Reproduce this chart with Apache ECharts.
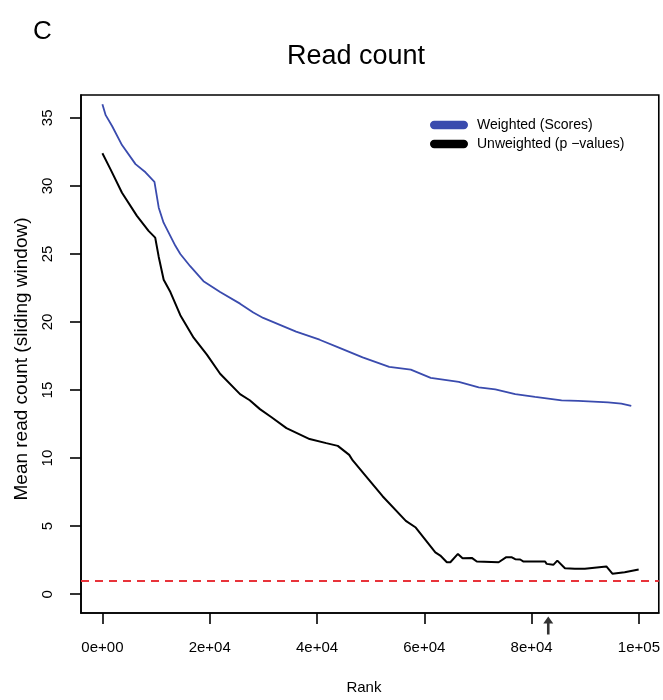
<!DOCTYPE html>
<html>
<head>
<meta charset="utf-8">
<script src="https://cdn.jsdelivr.net/npm/echarts@6/dist/echarts.min.js"></script>
<style>
html,body{margin:0;padding:0;background:#fff;}
#main{width:663px;height:700px;}
</style>
</head>
<body>
<div id="main"></div>
<script>
// ---- data ----
var blueX = [0, 610, 1800, 3650, 6170, 8030, 9700, 10500, 11400, 13600, 14520, 16360, 18840, 21940, 25650, 28120, 29970, 33640, 36100, 40480, 44190, 48500, 53460, 57480, 61190, 66430, 70140, 73230, 76940, 80640, 85580, 88690, 94250, 96720, 98570];
var blueY = [36.0, 35.2, 34.4, 33.0, 31.6, 31.0, 30.3, 28.4, 27.3, 25.6, 25.0, 24.1, 23.0, 22.2, 21.35, 20.7, 20.3, 19.7, 19.3, 18.7, 18.1, 17.4, 16.7, 16.5, 15.9, 15.6, 15.2, 15.05, 14.7, 14.5, 14.25, 14.2, 14.1, 14.0, 13.83];
var blackX = [0, 1540, 3650, 6430, 8600, 9840, 10490, 11420, 12670, 14520, 17000, 19470, 21940, 25650, 27460, 29360, 31520, 34300, 38620, 41720, 43870, 46000, 46660, 49140, 52220, 56550, 58400, 62050, 62980, 64200, 64850, 66260, 67130, 68850, 69780, 73850, 75210, 76320, 76940, 77870, 78490, 82510, 82800, 84040, 84790, 86210, 88060, 89920, 93930, 95050, 97340, 99950];
var blackY = [32.4, 31.2, 29.5, 27.8, 26.7, 26.2, 24.8, 23.1, 22.2, 20.5, 18.85, 17.6, 16.2, 14.7, 14.25, 13.6, 13.0, 12.2, 11.4, 11.1, 10.9, 10.24, 9.83, 8.66, 7.2, 5.39, 4.9, 3.08, 2.84, 2.35, 2.35, 2.96, 2.64, 2.67, 2.4, 2.35, 2.71, 2.71, 2.57, 2.55, 2.4, 2.4, 2.23, 2.16, 2.47, 1.91, 1.87, 1.87, 2.04, 1.51, 1.62, 1.82];
var xTicks = [0, 20000, 40000, 60000, 80000, 100000];
var xTickLabels = ['0e+00', '2e+04', '4e+04', '6e+04', '8e+04', '1e+05'];
var yTicks = [0, 5, 10, 15, 20, 25, 30, 35];
var refLine = 1;
var arrowRank = [83100];
var seriesNames = ['Weighted (Scores)', 'Unweighted (p \u2212values)'];

function pairs(xs, ys){ return xs.map(function(x,i){ return [x, ys[i]]; }); }

var FONT = 'Liberation Sans';
var pill = 'path://M4,0 L32,0 A4,4 0 0 1 32,8 L4,8 A4,4 0 0 1 4,0 Z';
var arrowPath = 'path://M5,0 L10,7 L6.3,7 L6.3,18 L3.7,18 L3.7,7 L0,7 Z';

var chart = echarts.init(document.getElementById('main'), null, {renderer:'canvas'});
chart.setOption({
  animation: false,
  backgroundColor: '#fff',
  textStyle: {fontFamily: FONT},
  title: [
    {text: 'Read count', left: 351, top: 38, textAlign: 'center',
     textStyle: {fontFamily: FONT, fontSize: 27, fontWeight: 'normal', color: '#000'}},
    {text: 'C', left: 28, top: 14,
     textStyle: {fontFamily: FONT, fontSize: 26, fontWeight: 'normal', color: '#000'}}
  ],
  legend: {
    orient: 'vertical', left: 425, top: 113, itemGap: 5,
    itemWidth: 38, itemHeight: 9,
    textStyle: {fontFamily: FONT, fontSize: 14, color: '#000', padding:[0,0,0,4]},
    data: [{name: seriesNames[0], icon: pill}, {name: seriesNames[1], icon: pill}]
  },
  grid: {left: 81, right: 2, top: 95, bottom: 82, show: true, borderColor: '#000', borderWidth: 1.6, containLabel: false},
  xAxis: {
    type: 'value', min: -3990, max: 103700,
    name: 'Rank', nameLocation: 'middle', nameGap: 67,
    nameTextStyle: {fontFamily: FONT, fontSize: 15, color: '#000', padding: [0, 12, 0, 0]},
    axisLine: {show: true, onZero: false, lineStyle: {color: '#000', width: 1.6}},
    splitLine: {show: false},
    axisTick: {show: true, inside: false, length: 11, customValues: xTicks, lineStyle: {color: '#000', width: 1.6}},
    axisLabel: {customValues: xTicks, margin: 27, fontFamily: FONT, fontSize: 15, color: '#000',
      formatter: function(v){ var i = xTicks.indexOf(v); return i >= 0 ? xTickLabels[i] : ''; }}
  },
  yAxis: {
    type: 'value', min: -1.38, max: 36.68,
    name: 'Mean read count (sliding window)', nameLocation: 'middle', nameGap: 50, nameRotate: 90,
    nameTextStyle: {fontFamily: FONT, fontSize: 19, color: '#000', padding: [0, 10, 0, 0]},
    axisLine: {show: true, onZero: false, lineStyle: {color: '#000', width: 1.6}},
    splitLine: {show: false},
    axisTick: {show: true, inside: false, length: 11, customValues: yTicks, lineStyle: {color: '#000', width: 1.6}},
    axisLabel: {customValues: yTicks, rotate: 90, margin: 26, fontFamily: FONT, fontSize: 15, color: '#000'}
  },
  series: [
    {name: seriesNames[0], type: 'line', data: pairs(blueX, blueY), showSymbol: false, symbol: 'none',
     lineStyle: {color: '#3a4bae', width: 1.8}, itemStyle: {color: '#3a4bae'}, z: 3,
     markLine: {silent: true, symbol: 'none', label: {show: false},
       lineStyle: {color: '#e8333a', type: [8, 6], width: 1.8},
       data: [{yAxis: refLine}]}},
    {name: seriesNames[1], type: 'line', data: pairs(blackX, blackY), showSymbol: false, symbol: 'none',
     lineStyle: {color: '#000', width: 2}, itemStyle: {color: '#000'}, z: 3},
    {name: 'arrow', type: 'scatter', clip: false, silent: true, symbol: arrowPath, symbolSize: [10, 18],
     itemStyle: {color: '#000'}, z: 5,
     data: arrowRank.map(function(x){ return [x, -2.3]; })}
  ]
});
</script>
</body>
</html>
